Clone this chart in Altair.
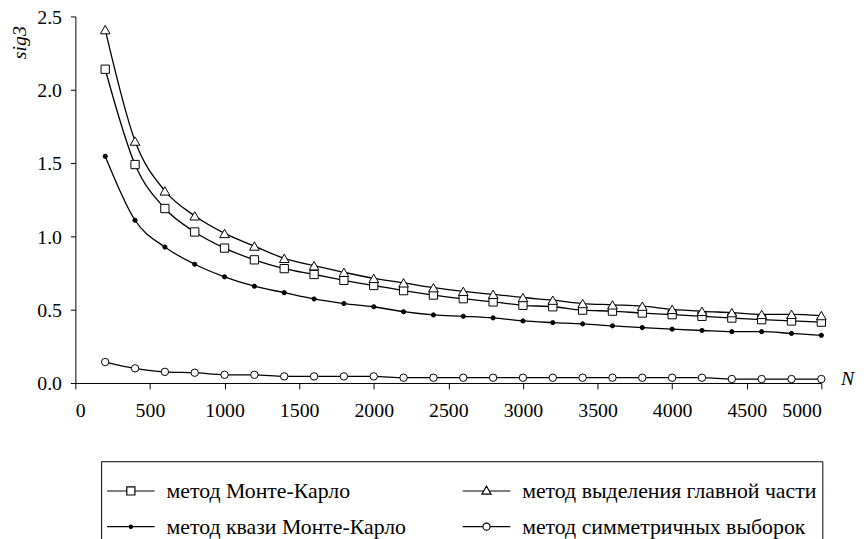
import altair as alt
import pandas as pd

N = [200, 400, 600, 800, 1000, 1200, 1400, 1600, 1800, 2000, 2200, 2400, 2600,
     2800, 3000, 3200, 3400, 3600, 3800, 4000, 4200, 4400, 4600, 4800, 5000]

series_names = ["метод Монте-Карло", "метод квази Монте-Карло",
                "метод выделения главной части", "метод симметричных выборок"]

mc = [2.14, 1.49, 1.19, 1.03, 0.92, 0.84, 0.78, 0.74, 0.70,
      0.665, 0.63, 0.60, 0.575, 0.553, 0.53, 0.52, 0.497, 0.49, 0.477, 0.466,
      0.455, 0.443, 0.432, 0.423, 0.415]
qmc = [1.546, 1.11, 0.927, 0.81, 0.724, 0.66, 0.616, 0.573, 0.542,
       0.52, 0.486, 0.464, 0.455, 0.444, 0.423, 0.412, 0.403, 0.39, 0.378, 0.367,
       0.358, 0.35, 0.35, 0.338, 0.325]
main_part = [2.41, 1.65, 1.31, 1.14, 1.02, 0.934, 0.85, 0.80, 0.755,
             0.714, 0.683, 0.65, 0.625, 0.605, 0.583, 0.565, 0.542, 0.533, 0.524, 0.502,
             0.489, 0.48, 0.468, 0.468, 0.46]
symm = [0.143, 0.10, 0.076, 0.07, 0.056, 0.056, 0.045, 0.045, 0.045,
        0.045, 0.036, 0.036, 0.036, 0.036, 0.036, 0.036, 0.036, 0.036, 0.036, 0.036,
        0.036, 0.027, 0.027, 0.027, 0.027]

x_ticks = [0, 500, 1000, 1500, 2000, 2500, 3000, 3500, 4000, 4500, 5000]
y_ticks = [0.0, 0.5, 1.0, 1.5, 2.0, 2.5]

rows = []
for name, vals in zip(series_names, [mc, qmc, main_part, symm]):
    for n, v in zip(N, vals):
        rows.append({"N": n, "sig3": v, "series": name})
df = pd.DataFrame(rows)

FONT = "Liberation Serif"

# plot markers
plot_shapes = ["square", "circle", "triangle-up", "circle"]
plot_fills = ["white", "black", "white", "white"]
plot_sizes = [70, 18, 95, 56]

# legend symbols: line with marker in the middle (unit coords -1..1)
sq = "M-1,0H-0.17M0.17,0H1M-0.17,-0.17H0.17V0.17H-0.17Z"
dot = "M-1,0H1M-0.07,0A0.07,0.07,0,1,1,0.07,0A0.07,0.07,0,1,1,-0.07,0Z"
tri = "M-1,0H-0.11M0.11,0H1M-0.19,0.13H0.19L0,-0.2Z"
circ = "M-1,0H-0.15M0.15,0H1M-0.15,0A0.15,0.15,0,1,1,0.15,0A0.15,0.15,0,1,1,-0.15,0Z"
legend_paths = [sq, dot, tri, circ]
legend_fills = ["white", "black", "white", "white"]
legend_strokes = ["black", "black", "black", "black"]

x_enc = alt.X("N:Q", scale=alt.Scale(domain=[0, 5000], nice=False),
              axis=alt.Axis(values=x_ticks, format="d", title="N", titleX=779, titleY=-4,
                            titleAlign="center", titleBaseline="middle",
                            titleFont=FONT, titleFontSize=20, titleFontStyle="italic",
                            titleFontWeight="normal", titleColor="black",
                            labelPadding=12, tickSize=6))
y_enc = alt.Y("sig3:Q", scale=alt.Scale(domain=[0, 2.5], nice=False),
              axis=alt.Axis(values=y_ticks, format=".1f", title="sig3",
                            titleAngle=270, titleX=-56, titleY=26,
                            titleAlign="center", titleBaseline="middle",
                            titleFont=FONT, titleFontSize=20, titleFontStyle="italic",
                            titleFontWeight="normal", titleColor="black",
                            labelPadding=9, labelOffset=1, tickSize=5))

lines = alt.Chart(df).mark_line(interpolate="monotone", color="black", strokeWidth=1.3).encode(
    x=x_enc, y=y_enc, detail="series:N")

points = alt.Chart(df).mark_point(filled=True, stroke="black", strokeWidth=1, opacity=1).encode(
    x=x_enc, y=y_enc,
    shape=alt.Shape("series:N", scale=alt.Scale(domain=series_names, range=plot_shapes), legend=None),
    fill=alt.Fill("series:N", scale=alt.Scale(domain=series_names, range=plot_fills), legend=None),
    size=alt.Size("series:N", scale=alt.Scale(type="ordinal", domain=series_names, range=plot_sizes), legend=None),
)

leg = alt.Legend(orient="none", legendX=26, legendY=449, columns=2, direction="vertical", title=None,
                 padding=5, rowPadding=-13, columnPadding=54, labelOffset=11,
                 labelFont=FONT, labelFontSize=22, labelColor="black", labelLimit=600,
                 strokeColor="black", symbolStrokeColor="black", symbolStrokeWidth=1.2,
                 symbolSize=2304, symbolOpacity=1)

legend_layer = alt.Chart(df).mark_point(filled=True, opacity=0).encode(
    x=x_enc, y=y_enc,
    shape=alt.Shape("series:N", scale=alt.Scale(domain=series_names, range=legend_paths), legend=leg),
    fill=alt.Fill("series:N", scale=alt.Scale(domain=series_names, range=legend_fills), legend=leg),
    stroke=alt.Stroke("series:N", scale=alt.Scale(domain=series_names, range=legend_strokes), legend=leg),
)

chart = alt.layer(lines, points, legend_layer).resolve_scale(
    shape="independent", fill="independent", size="independent", stroke="independent"
).properties(
    width=753, height=370,
    padding={"left": 68, "top": 6, "right": 36, "bottom": 160},
    autosize=alt.AutoSizeParams(type="none"),
    background="white",
).configure_view(stroke=None).configure_axis(
    grid=False, domainColor="black", tickColor="black", labelColor="black",
    labelFont=FONT, labelFontSize=20, domainWidth=1, tickWidth=1,
)

chart.save("out.html", embed_options={"renderer": "svg", "actions": False})
